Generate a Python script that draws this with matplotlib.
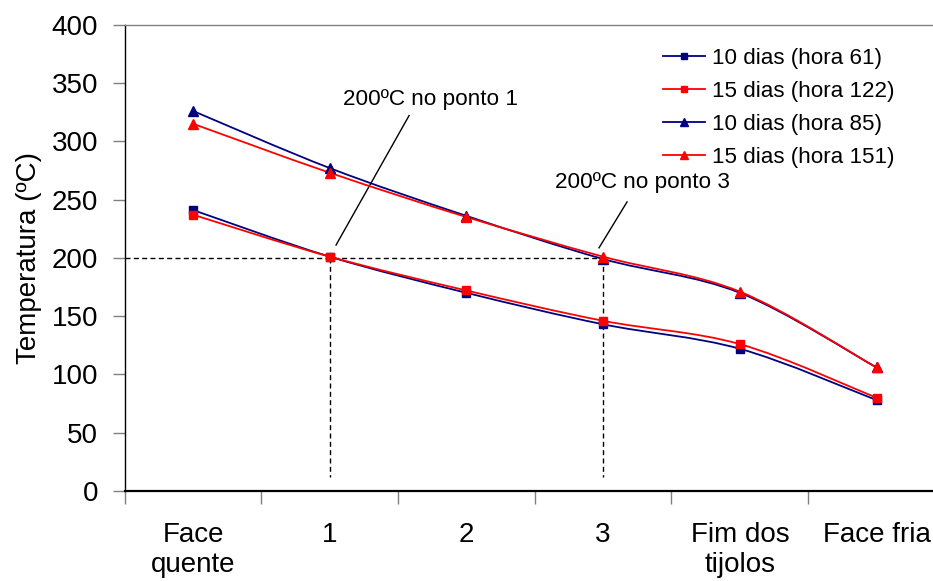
#!/usr/bin/env python3
# -*- coding: utf-8 -*-

import matplotlib
matplotlib.use('Agg')
import matplotlib.pyplot as plt
from matplotlib.path import Path
from matplotlib.patches import PathPatch
from matplotlib.lines import Line2D

plt.rcParams['font.family'] = ['Liberation Sans', 'DejaVu Sans']

CATEGORIAS = ['Face\nquente', '1', '2', '3', 'Fim dos\ntijolos', 'Face fria']
DIAS10_H61 = [241, 201, 170, 143, 122, 78]
DIAS15_H122 = [237, 201, 172, 146, 126, 80]
DIAS10_H85 = [326, 277, 236, 199, 170, 106]
DIAS15_H151 = [315, 273, 235, 201, 171, 106]
ROTULOS = ['10 dias (hora 61)', '15 dias (hora 122)', '10 dias (hora 85)', '15 dias (hora 151)']

AZUL = '#000080'
VERMELHO = '#FF0000'


# linha suavizada tipo Excel (bezier catmull-rom)
def curva_suave(ax, xs, ys, cor):
    n = len(xs)
    pts = list(zip(xs, ys))
    verts = [pts[0]]
    codes = [Path.MOVETO]
    for i in range(n - 1):
        p0 = pts[max(i - 1, 0)]
        p1 = pts[i]
        p2 = pts[i + 1]
        p3 = pts[min(i + 2, n - 1)]
        c1 = (p1[0] + (p2[0] - p0[0]) / 6, p1[1] + (p2[1] - p0[1]) / 6)
        c2 = (p2[0] - (p3[0] - p1[0]) / 6, p2[1] - (p3[1] - p1[1]) / 6)
        verts += [c1, c2, p2]
        codes += [Path.CURVE4] * 3
    patch = PathPatch(Path(verts, codes), facecolor='none', edgecolor=cor, lw=1.3, zorder=3)
    ax.add_patch(patch)


fig = plt.figure(figsize=(9.33, 5.81), dpi=100)
ax = fig.add_axes([0.1337, 0.1549, 0.879, 0.8026])

x = list(range(len(CATEGORIAS)))
series = [
    (DIAS10_H61, AZUL, 's', 5.3),
    (DIAS15_H122, VERMELHO, 's', 5.3),
    (DIAS10_H85, AZUL, '^', 6.8),
    (DIAS15_H151, VERMELHO, '^', 6.8),
]
handles = []
for (ys, cor, mk, ms), rot in zip(series, ROTULOS):
    curva_suave(ax, x, ys, cor)
    ax.plot(x, ys, linestyle='none', marker=mk, markersize=ms, color=cor, zorder=4)
    handles.append(Line2D([], [], color=cor, lw=1.3, marker=mk, markersize=ms * 0.75))

# linhas tracejadas de 200 graus
tracejado = (0, (3.6, 2.4))
ax.plot([-0.5, 3], [200, 200], color='black', lw=1.0, linestyle=tracejado, zorder=2)
ax.plot([1, 1], [200, 12], color='black', lw=1.0, linestyle=tracejado, zorder=2)
ax.plot([3, 3], [200, 12], color='black', lw=1.0, linestyle=tracejado, zorder=2)

# anotacoes
ax.plot([1.046, 1.58], [211, 322], color='black', lw=1.0, zorder=2)
ax.text(1.74, 336, '200ºC no ponto 1', fontsize=16.2, ha='center', va='center')
ax.plot([2.97, 3.175], [208.6, 248], color='black', lw=1.0, zorder=2)
ax.text(3.29, 265, '200ºC no ponto 3', fontsize=16.2, ha='center', va='center')

ax.set_xlim(-0.5, 5.5)
ax.set_ylim(0, 400)
ax.set_yticks(range(0, 401, 50))
ax.set_xticks(x)
ax.set_xticklabels(CATEGORIAS)
ax.set_xticks([i - 0.5 for i in range(len(CATEGORIAS) + 1)], minor=True)
ax.tick_params(axis='x', which='major', length=0, pad=22, labelsize=20)
ax.tick_params(axis='x', which='minor', length=9, width=1.0, color='#808080', direction='out')
ax.tick_params(axis='y', length=9, width=1.0, color='#808080', direction='out', pad=10, labelsize=20)
ax.set_ylabel('Temperatura (ºC)', fontsize=20, labelpad=7)

ax.spines['right'].set_visible(False)
ax.spines['top'].set_color('#808080')
ax.spines['top'].set_linewidth(1.0)
ax.spines['left'].set_linewidth(1.0)
ax.spines['bottom'].set_linewidth(1.6)

ax.legend(handles, ROTULOS, loc='upper left', bbox_to_anchor=(0.7104, 0.918), bbox_transform=fig.transFigure,
          frameon=False, fontsize=16.1, handlelength=1.9, handletextpad=0.3, labelspacing=0.54,
          borderpad=0, borderaxespad=0)

fig.savefig('out.png', dpi=100)
plt.close()
